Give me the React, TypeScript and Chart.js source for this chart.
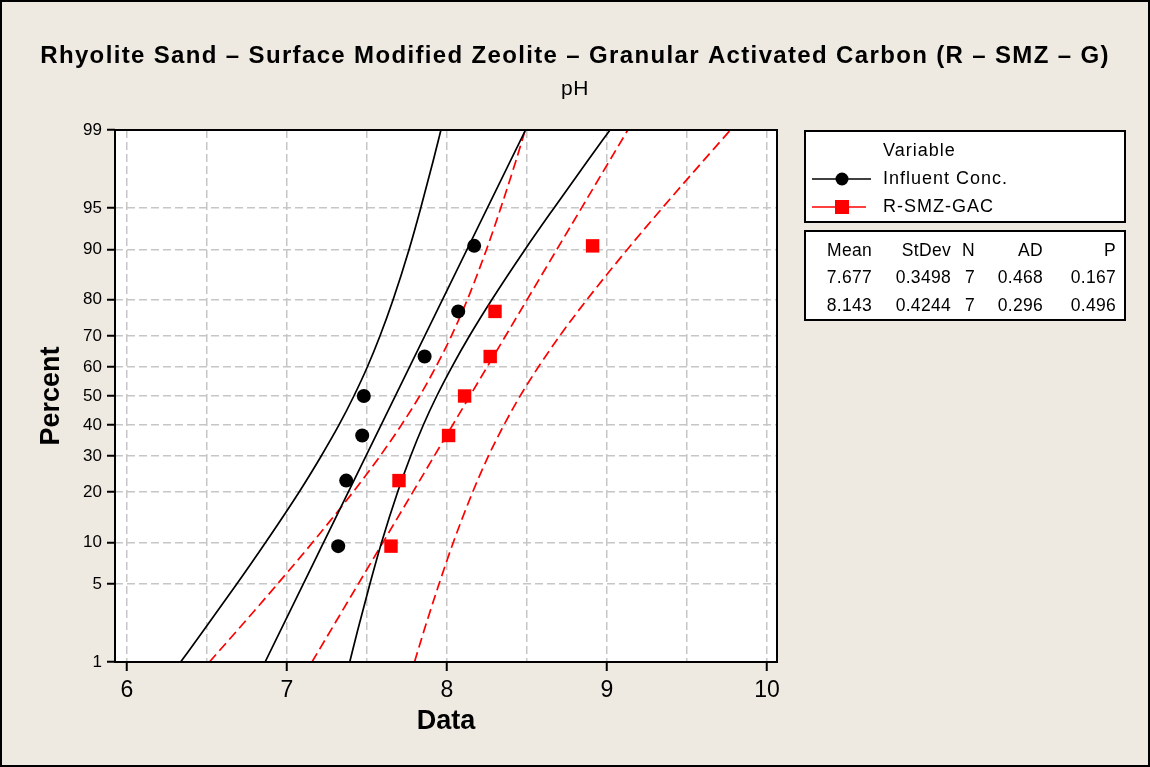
import React, { useEffect, useRef } from 'react';
import { Chart, Scale, registerables } from 'chart.js';

// ---------- text ----------
const TITLE = 'Rhyolite Sand – Surface Modified Zeolite – Granular Activated Carbon (R – SMZ – G)';
const SUBTITLE = 'pH';
const X_TITLE = 'Data';
const Y_TITLE = 'Percent';
const LEGEND_HEADER = 'Variable';
const SERIES_NAMES = ['Influent Conc.', 'R-SMZ-GAC'];

// ---------- data (percent plotting positions & observed values) ----------
const PERCENT_POS = [9.46, 22.97, 36.49, 50, 63.51, 77.03, 90.54];
const INFLUENT = [7.32, 7.37, 7.47, 7.48, 7.86, 8.07, 8.17];
const RSMZGAC = [7.65, 7.70, 8.01, 8.11, 8.27, 8.30, 8.91];

// fitted lines (read at 1% and 99%)
const FIT_PCT = [1, 99];
const INF_FIT = [6.863, 8.491];
const RS_FIT = [7.156, 9.130];

// confidence bands (read at these percent levels)
const CURVE_PCT = [1, 2, 5, 10, 20, 30, 40, 50, 60, 70, 80, 90, 95, 98, 99];
const INF_LO = [6.335, 6.477, 6.686, 6.866, 7.075, 7.214, 7.325, 7.418, 7.502, 7.581, 7.663, 7.763, 7.836, 7.913, 7.962];
const INF_HI = [7.392, 7.441, 7.518, 7.591, 7.691, 7.773, 7.852, 7.936, 8.030, 8.140, 8.280, 8.488, 8.669, 8.877, 9.019];
const RS_LO = [6.515, 6.687, 6.940, 7.159, 7.412, 7.582, 7.715, 7.829, 7.930, 8.027, 8.127, 8.247, 8.336, 8.430, 8.489];
const RS_HI = [7.797, 7.856, 7.950, 8.039, 8.160, 8.259, 8.356, 8.457, 8.571, 8.704, 8.874, 9.127, 9.346, 9.600, 9.771];

// ---------- axes ----------
const Y_TICKS = [1, 5, 10, 20, 30, 40, 50, 60, 70, 80, 90, 95, 99];
const X_GRID = [6, 6.5, 7, 7.5, 8, 8.5, 9, 9.5, 10];
const X_LABELS = [6, 7, 8, 9, 10];

// ---------- stats table ----------
const STATS_HEAD = ['Mean', 'StDev', 'N', 'AD', 'P'];
const STATS_INF = ['7.677', '0.3498', '7', '0.468', '0.167'];
const STATS_RS = ['8.143', '0.4244', '7', '0.296', '0.496'];

const FONT = "'Liberation Sans', Arial, sans-serif";
const BG = '#EEEAE1';
const RED = '#FF0000';

function probit(p: number): number {
  const a = [-3.969683028665376e1, 2.209460984245205e2, -2.759285104469687e2, 1.38357751867269e2, -3.066479806614716e1, 2.506628277459239];
  const b = [-5.447609879822406e1, 1.615858368580409e2, -1.556989798598866e2, 6.680131188771972e1, -1.328068155288572e1];
  const c = [-7.784894002430293e-3, -3.223964580411365e-1, -2.400758277161838, -2.549732539343734, 4.374664141464968, 2.938163982698783];
  const d = [7.784695709041462e-3, 3.224671290700398e-1, 2.445134137142996, 3.754408661907416];
  const pl = 0.02425;
  if (p < pl) {
    const q = Math.sqrt(-2 * Math.log(p));
    return (((((c[0] * q + c[1]) * q + c[2]) * q + c[3]) * q + c[4]) * q + c[5]) / ((((d[0] * q + d[1]) * q + d[2]) * q + d[3]) * q + 1);
  }
  if (p <= 1 - pl) {
    const q = p - 0.5, r = q * q;
    return ((((((a[0] * r + a[1]) * r + a[2]) * r + a[3]) * r + a[4]) * r + a[5]) * q) / (((((b[0] * r + b[1]) * r + b[2]) * r + b[3]) * r + b[4]) * r + 1);
  }
  const q = Math.sqrt(-2 * Math.log(1 - p));
  return -(((((c[0] * q + c[1]) * q + c[2]) * q + c[3]) * q + c[4]) * q + c[5]) / ((((d[0] * q + d[1]) * q + d[2]) * q + d[3]) * q + 1);
}

class ProbabilityScale extends Scale {
  static id = 'probability';
  static defaults = {};
  _zmin = -1;
  _zmax = 1;
  determineDataLimits() {
    const o: any = this.options;
    this.min = o.min;
    this.max = o.max;
  }
  buildTicks() {
    return Y_TICKS.map((v) => ({ value: v }));
  }
  getLabelForValue(v: number) {
    return String(v);
  }
  configure() {
    super.configure();
    this._zmin = probit(this.min / 100);
    this._zmax = probit(this.max / 100);
  }
  getPixelForValue(v: number) {
    const z = probit(v / 100);
    return this.getPixelForDecimal((z - this._zmin) / (this._zmax - this._zmin));
  }
  getValueForPixel(px: number) {
    const dec = this.getDecimalForPixel(px);
    const z = this._zmin + dec * (this._zmax - this._zmin);
    let lo = 0.0001, hi = 0.9999;
    for (let i = 0; i < 40; i++) {
      const mid = (lo + hi) / 2;
      if (probit(mid) < z) lo = mid; else hi = mid;
    }
    return ((lo + hi) / 2) * 100;
  }
}

Chart.register(...registerables, ProbabilityScale as any);

function pts(xs: number[], ps: number[]) {
  return xs.map((x, i) => ({ x, y: ps[i] }));
}

function curve(xs: number[], ps: number[], color: string, dash: number[]) {
  return {
    data: pts(xs, ps),
    showLine: true,
    borderColor: color,
    borderWidth: 1.7,
    borderDash: dash,
    pointRadius: 0,
    fill: false,
    cubicInterpolationMode: 'monotone',
  };
}

const framePlugin = {
  id: 'minitabFrame',
  beforeDraw(chart: any) {
    const { ctx, width, height, chartArea: ca } = chart;
    ctx.save();
    ctx.fillStyle = BG;
    ctx.fillRect(0, 0, width, height);
    ctx.fillStyle = '#FFFFFF';
    ctx.fillRect(ca.left, ca.top, ca.right - ca.left, ca.bottom - ca.top);
    ctx.strokeStyle = '#000';
    ctx.lineWidth = 2;
    ctx.strokeRect(1, 1, width - 2, height - 2);

    // title and subtitle
    ctx.fillStyle = '#000';
    ctx.textAlign = 'center';
    ctx.textBaseline = 'middle';
    (ctx as any).letterSpacing = '1.35px';
    ctx.font = `bold 24px ${FONT}`;
    ctx.fillText(TITLE, width / 2, 56);
    (ctx as any).letterSpacing = '0.5px';
    ctx.font = `21px ${FONT}`;
    ctx.fillText(SUBTITLE, width / 2, 89);
    ctx.restore();
  },
  afterDatasetsDraw(chart: any) {
    const { ctx, chartArea: ca } = chart;
    ctx.save();
    ctx.strokeStyle = '#000';
    ctx.lineWidth = 2;
    ctx.strokeRect(ca.left, ca.top, ca.right - ca.left, ca.bottom - ca.top);
    ctx.restore();
  },
  afterDraw(chart: any) {
    const { ctx } = chart;
    ctx.save();
    // legend box
    ctx.fillStyle = '#FFFFFF';
    ctx.fillRect(805, 131, 320, 91);
    ctx.fillRect(805, 231, 320, 89);
    ctx.strokeStyle = '#000';
    ctx.lineWidth = 2;
    ctx.strokeRect(805, 131, 320, 91);
    ctx.strokeRect(805, 231, 320, 89);

    ctx.font = `18px ${FONT}`;
    (ctx as any).letterSpacing = '1px';
    ctx.fillStyle = '#000';
    ctx.textBaseline = 'middle';
    ctx.textAlign = 'left';
    ctx.fillText(LEGEND_HEADER, 883, 151);
    ctx.fillText(SERIES_NAMES[0], 883, 179);
    ctx.fillText(SERIES_NAMES[1], 883, 207);

    // symbols
    ctx.lineWidth = 1.7;
    ctx.strokeStyle = '#000';
    ctx.beginPath();
    ctx.moveTo(812, 179);
    ctx.lineTo(871, 179);
    ctx.stroke();
    ctx.fillStyle = '#000';
    ctx.beginPath();
    ctx.arc(842, 179, 6.5, 0, Math.PI * 2);
    ctx.fill();

    ctx.strokeStyle = RED;
    ctx.beginPath();
    ctx.moveTo(812, 207);
    ctx.lineTo(866, 207);
    ctx.stroke();
    ctx.fillStyle = RED;
    ctx.fillRect(835, 200, 14, 14);

    // stats table
    ctx.fillStyle = '#000';
    ctx.textAlign = 'right';
    ctx.font = `17.5px ${FONT}`;
    (ctx as any).letterSpacing = '0.3px';
    const colRight = [872, 951, 975, 1043, 1116];
    const rows = [STATS_HEAD, STATS_INF, STATS_RS];
    const rowY = [251, 278, 306];
    rows.forEach((row, r) => {
      row.forEach((txt, c) => {
        ctx.fillText(txt, colRight[c], rowY[r]);
      });
    });
    ctx.restore();
  },
};

export default function App() {
  const ref = useRef<HTMLCanvasElement | null>(null);

  useEffect(() => {
    document.body.style.margin = '0';
    if (!ref.current) return;
    const chart = new Chart(ref.current, {
      type: 'scatter',
      data: {
        datasets: [
          {
            label: SERIES_NAMES[0],
            data: pts(INFLUENT, PERCENT_POS),
            pointStyle: 'circle',
            pointRadius: 7,
            pointBackgroundColor: '#000',
            pointBorderColor: '#000',
            pointBorderWidth: 0,
            showLine: false,
          },
          {
            label: SERIES_NAMES[1],
            data: pts(RSMZGAC, PERCENT_POS),
            pointStyle: 'rect',
            pointRadius: 9.5,
            pointBackgroundColor: RED,
            pointBorderColor: RED,
            pointBorderWidth: 0,
            showLine: false,
          },
          curve(INF_LO, CURVE_PCT, '#000', []),
          curve(INF_FIT, FIT_PCT, '#000', []),
          curve(INF_HI, CURVE_PCT, '#000', []),
          curve(RS_LO, CURVE_PCT, RED, [10, 5]),
          curve(RS_FIT, FIT_PCT, RED, [10, 5]),
          curve(RS_HI, CURVE_PCT, RED, [10, 5]),
        ] as any,
      },
      options: {
        animation: false,
        responsive: false,
        maintainAspectRatio: false,
        events: [],
        layout: { padding: { left: 0, right: 373, top: 130, bottom: 0 } },
        plugins: {
          legend: { display: false },
          tooltip: { enabled: false },
          title: { display: false },
          subtitle: { display: false },
        },
        scales: {
          x: {
            type: 'linear',
            min: 5.925,
            max: 10.0625,
            afterBuildTicks: (axis: any) => {
              axis.ticks = X_GRID.map((v) => ({ value: v }));
            },
            afterFit: (axis: any) => {
              axis.height = 105;
            },
            grid: {
              color: '#C6C6C6',
              lineWidth: 1.5,
              drawTicks: true,
              tickLength: 9,
              tickWidth: 2,
              tickColor: (ctx: any) =>
                ctx.tick && X_LABELS.includes(ctx.tick.value) ? '#000' : 'rgba(0,0,0,0)',
            },
            border: { display: false, dash: [8, 4] },
            ticks: {
              color: '#000',
              font: { family: FONT, size: 23 },
              padding: 6,
              maxRotation: 0,
              autoSkip: false,
              callback: (v: any) => (X_LABELS.includes(Number(v)) ? String(v) : ''),
            },
            title: {
              display: true,
              text: X_TITLE,
              color: '#000',
              font: { family: FONT, size: 27, weight: 'bold' },
              padding: { top: 0, bottom: 29 },
            },
          },
          y: {
            type: 'probability',
            min: 1,
            max: 99,
            afterFit: (axis: any) => {
              axis.width = 115;
            },
            grid: {
              color: '#C6C6C6',
              lineWidth: 1.5,
              drawTicks: true,
              tickLength: 8,
              tickWidth: 2,
              tickColor: '#000',
            },
            border: { display: false, dash: [8, 4] },
            ticks: {
              color: '#000',
              font: { family: FONT, size: 17 },
              padding: 5,
              autoSkip: false,
              callback: (v: any) => String(v),
            },
            title: {
              display: true,
              text: Y_TITLE,
              color: '#000',
              font: { family: FONT, size: 27, weight: 'bold' },
              padding: { top: 35, bottom: 0 },
            },
          } as any,
        },
      } as any,
      plugins: [framePlugin],
    });
    return () => chart.destroy();
  }, []);

  return (
    <div style={{ position: 'absolute', left: 0, top: 0, width: 1150, height: 767 }}>
      <canvas ref={ref} width={1150} height={767} style={{ display: 'block', width: 1150, height: 767 }} />
    </div>
  );
}
